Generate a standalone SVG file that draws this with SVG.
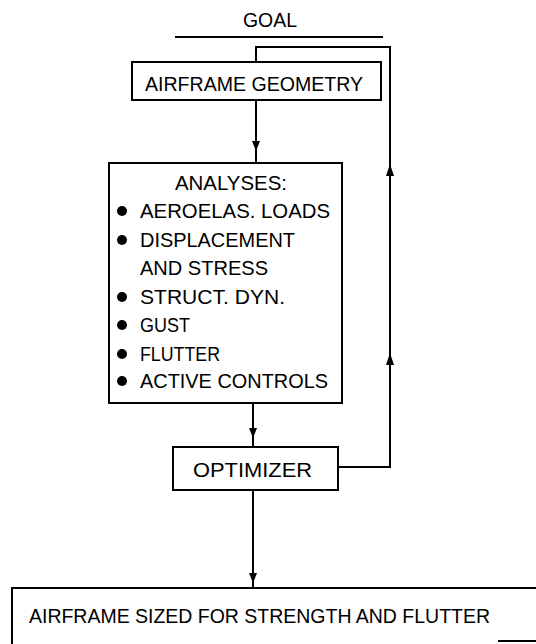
<svg xmlns="http://www.w3.org/2000/svg" width="536" height="644" viewBox="0 0 536 644">
<style>
.box{fill:#fff;stroke:#000;stroke-width:2}
.ln{fill:none;stroke:#000;stroke-width:2}
.t{font-family:"Liberation Sans",Arial,sans-serif;font-size:21px;fill:#000}
</style>
<rect width="536" height="644" fill="#fff"/>
<g id="connectors">
<path class="ln" d="M256,100 V163"/>
<path d="M252,141 L260,141 L256,151 Z"/>
<path class="ln" d="M253,403 V447"/>
<path d="M249,428 L257,428 L253,438 Z"/>
<path class="ln" d="M253,490 V588"/>
<path d="M249,573 L257,573 L253,583 Z"/>
<path class="ln" d="M338,467 H390 V47 H256 V62"/>
<path d="M386,176 L394,176 L390,164 Z"/>
<path d="M386,365 L394,365 L390,353 Z"/>
</g>
<g id="goal">
<text class="t" x="270" y="27" text-anchor="middle" textLength="54" lengthAdjust="spacingAndGlyphs">GOAL</text>
<path class="ln" d="M175,37 H383"/>
</g>
<g id="geometry">
<rect class="box" x="132" y="62" width="249" height="38"/>
<text class="t" x="145" y="91" textLength="218" lengthAdjust="spacingAndGlyphs">AIRFRAME GEOMETRY</text>
</g>
<g id="analyses">
<rect class="box" x="109" y="163" width="233" height="240"/>
<text class="t" x="231" y="190" text-anchor="middle" textLength="112" lengthAdjust="spacingAndGlyphs">ANALYSES:</text>
<circle cx="122" cy="211" r="5"/>
<text class="t" x="140" y="218" textLength="190" lengthAdjust="spacingAndGlyphs">AEROELAS. LOADS</text>
<circle cx="122" cy="240" r="5"/>
<text class="t" x="140" y="247" textLength="155" lengthAdjust="spacingAndGlyphs">DISPLACEMENT</text>
<text class="t" x="140" y="275" textLength="128" lengthAdjust="spacingAndGlyphs">AND STRESS</text>
<circle cx="122" cy="297" r="5"/>
<text class="t" x="140" y="304" textLength="145" lengthAdjust="spacingAndGlyphs">STRUCT. DYN.</text>
<circle cx="122" cy="325" r="5"/>
<text class="t" x="140" y="332" textLength="50" lengthAdjust="spacingAndGlyphs">GUST</text>
<circle cx="122" cy="354" r="5"/>
<text class="t" x="140" y="361" textLength="80" lengthAdjust="spacingAndGlyphs">FLUTTER</text>
<circle cx="122" cy="381" r="5"/>
<text class="t" x="140" y="388" textLength="188" lengthAdjust="spacingAndGlyphs">ACTIVE CONTROLS</text>
</g>
<g id="optimizer">
<rect class="box" x="173" y="447" width="165" height="43"/>
<text class="t" x="193" y="477" textLength="119" lengthAdjust="spacingAndGlyphs">OPTIMIZER</text>
</g>
<g id="result">
<path class="ln" d="M12,644 V588 H536"/>
<path class="ln" d="M498,641 H536"/>
<text class="t" x="29" y="623" textLength="461" lengthAdjust="spacingAndGlyphs">AIRFRAME SIZED FOR STRENGTH AND FLUTTER</text>
</g>
</svg>
